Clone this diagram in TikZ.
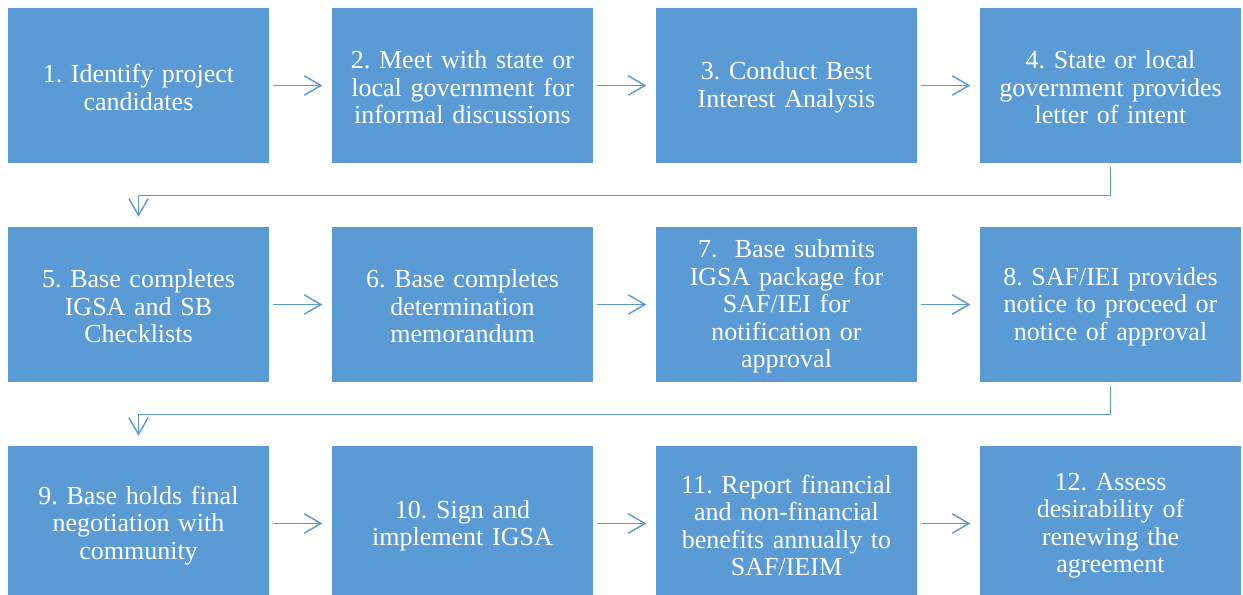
\documentclass[tikz,border=0pt]{standalone}
\usepackage{fontspec}
\setmainfont{Liberation Serif}
\usetikzlibrary{arrows.meta}
\definecolor{boxblue}{HTML}{5B9BD5}
\begin{document}
\begin{tikzpicture}[x=0.75pt,y=-0.75pt,
  stepbox/.style={fill=boxblue, draw=none, minimum width=261*0.75pt, minimum height=155*0.75pt,
    text width=255*0.75pt, align=center, inner sep=0pt, text=white,
    font=\fontsize{19.5pt}{20.6pt}\selectfont\frenchspacing,
    execute at begin node={\leavevmode\rule{0pt}{16.5pt}}},
  conn/.style={draw=boxblue, line width=1.1pt,
    -{Straight Barb[length=12.5pt,width=14.5pt,line width=1.1pt]},
    shorten <=2.5pt}]
\useasboundingbox (0,0) rectangle (1243,594);
\clip (0,0) rectangle (1243,594);
\node[stepbox] (b1) at (138.5,85.5) {1. Identify project\\candidates};
\node[stepbox] (b2) at (462.5,85.5) {2. Meet with state or\\local government for\\informal discussions};
\node[stepbox] (b3) at (786.5,85.5) {3. Conduct Best\\Interest Analysis};
\node[stepbox] (b4) at (1110.5,85.5) {4. State or local\\government provides\\letter of intent};
\node[stepbox] (b5) at (138.5,304.5) {5. Base completes\\IGSA and SB\\Checklists};
\node[stepbox] (b6) at (462.5,304.5) {6. Base completes\\determination\\memorandum};
\node[stepbox] (b7) at (786.5,304.5) {7.\ \ Base submits\\IGSA package for\\SAF/IEI for\\notification or\\approval};
\node[stepbox] (b8) at (1110.5,304.5) {8. SAF/IEI provides\\notice to proceed or\\notice of approval};
\node[stepbox] (b9) at (138.5,523.5) {9. Base holds final\\negotiation with\\community};
\node[stepbox] (b10) at (462.5,523.5) {10. Sign and\\implement IGSA};
\node[stepbox] (b11) at (786.5,523.5) {11. Report financial\\and non-financial\\benefits annually to\\SAF/IEIM};
\node[stepbox] (b12) at (1110.5,523.5) {12. Assess\\desirability of\\renewing the\\agreement};
\foreach \a/\b in {b1/b2,b2/b3,b3/b4,b5/b6,b6/b7,b7/b8,b9/b10,b10/b11,b11/b12}
  \draw[conn, shorten >=7pt] (\a.east) -- (\b.west);
\draw[conn, shorten >=7.5pt] (b4.south) -- ++(0,32) -| (b5.north);
\draw[conn, shorten >=7.5pt] (b8.south) -- ++(0,32) -| (b9.north);
\end{tikzpicture}
\end{document}
